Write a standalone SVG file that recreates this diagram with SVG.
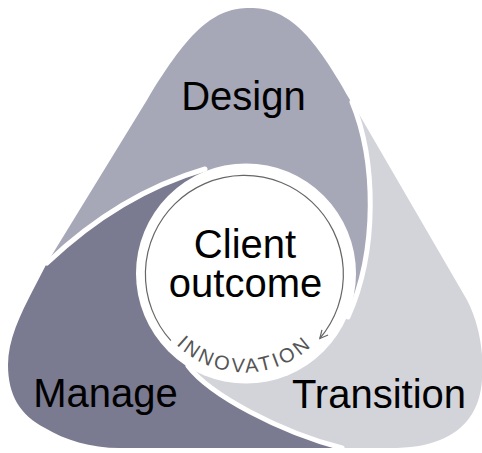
<svg xmlns="http://www.w3.org/2000/svg" width="482" height="453" viewBox="0 0 482 453">
  <defs>
    <style>
      .lbl{font-family:"Liberation Sans",Arial,sans-serif;font-size:40px;fill:#000;text-anchor:middle}
      .sep{fill:none;stroke:#fff;stroke-width:5;stroke-linecap:round}
      .ring{fill:none;stroke:#666;stroke-width:1.2}
      .innov{font-family:"Liberation Sans",Arial,sans-serif;font-size:20px;fill:#555;letter-spacing:3px}
    </style>
    <marker id="chev" viewBox="0 0 10 10" refX="9" refY="5" markerWidth="10" markerHeight="10" markerUnits="userSpaceOnUse" orient="auto">
      <path d="M1,1 L9,5 L1,9" fill="none" stroke="#666" stroke-width="1.2"/>
    </marker>
    <path id="innovArc" d="M146.5,274.5 A98,98 0 0 0 342.5,274.5"/>
  </defs>

  <g id="design">
    <path fill="#a6a7b7" d="M47,263 L147,100 C190,28 215,8 250,8 C285,8 310,28 350,100 L352,102 C376,160 378,250 348,317 L246,273 L205,169 C140,188 90,222 47,263 Z"/>
    <text class="lbl" x="243.5" y="110">Design</text>
  </g>

  <g id="transition">
    <path fill="#d3d4da" d="M352,102 L467,300 C480,325 484,355 482,380 C480,410 465,430 440,440 C425,446 410,448 390,448 L342,448 C280,432 210,395 188,366 L246,273 L348,317 C378,250 376,160 352,102 Z"/>
    <text class="lbl" x="379" y="408">Transition</text>
  </g>

  <g id="manage">
    <path fill="#7a7a90" d="M342,448 L120,448 C90,448 65,440 45,428 C20,415 8,395 8,365 C8,340 20,315 33,290 L47,263 C90,222 140,188 205,169 L246,273 L188,366 C210,395 280,432 342,448 Z"/>
    <text class="lbl" x="105.5" y="407">Manage</text>
  </g>

  <g id="separators">
    <path class="sep" d="M47,263 C90,222 140,188 205,169"/>
    <path class="sep" d="M352,102 C376,160 378,250 348,317"/>
    <path class="sep" d="M188,366 C210,395 280,432 342,448"/>
  </g>

  <g id="client-outcome">
    <circle cx="246" cy="273.5" r="110" fill="#fff"/>
    <text class="lbl" x="245" y="258">Client</text>
    <text class="lbl" x="245.5" y="297">outcome</text>
    <text class="innov"><textPath href="#innovArc" startOffset="50%" text-anchor="middle">INNOVATION</textPath></text>
  </g>

  <g id="connectors">
    <path class="ring" marker-end="url(#chev)" d="M170.9,340.7 A99,99 0 1 1 319.8,338.5"/>
  </g>
</svg>
